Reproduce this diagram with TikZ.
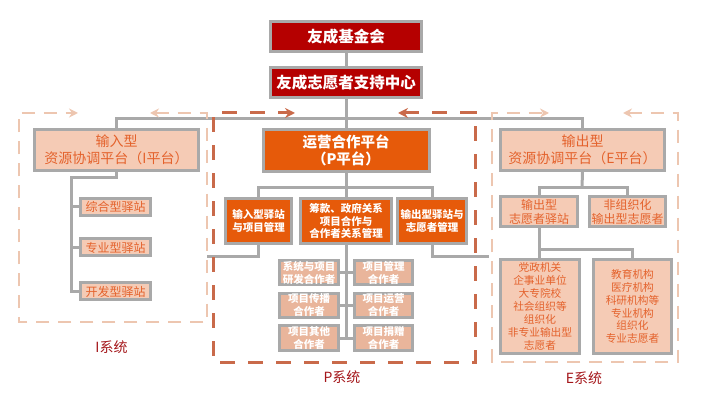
\documentclass[tikz,border=0pt]{standalone}
\usepackage{fontspec}
\setmainfont{Noto Sans CJK SC}
\usetikzlibrary{arrows.meta,backgrounds}
\definecolor{dred}{HTML}{B50000}
\definecolor{orng}{HTML}{E65A0A}
\definecolor{peach}{HTML}{F5CBB5}
\definecolor{peachb}{HTML}{E9B59B}
\definecolor{txtor}{HTML}{E4622C}
\definecolor{lgray}{HTML}{A9A9A9}
\definecolor{dashlight}{HTML}{EDC6B0}
\definecolor{dashdark}{HTML}{C96A4A}
\definecolor{labred}{HTML}{A4161A}
\tikzset{
  base/.style={draw=lgray, line width=3pt, inner sep=0pt, align=center},
  redbox/.style={base, fill=dred, text=white, font=\bfseries\fontsize{15.5}{18}\selectfont},
  platI/.style={base, fill=peach, text=txtor, font=\fontsize{14}{17}\selectfont},
  platP/.style={base, fill=orng, text=white, font=\bfseries\fontsize{14.5}{17}\selectfont},
  obox/.style={base, fill=orng, text=white, font=\bfseries\fontsize{10.5}{12.5}\selectfont},
  sbox/.style={base, fill=peachb, text=white, font=\bfseries\fontsize{10.5}{13}\selectfont},
  ibox/.style={base, fill=peach, text=txtor, font=\fontsize{12}{14}\selectfont},
  ebig/.style={base, fill=peach, text=txtor, font=\fontsize{10.7}{12.9}\selectfont},
  conn/.style={draw=lgray, line width=3pt},
  sysI/.style={draw=dashlight, line width=2pt, dash pattern=on 13pt off 9pt, {Stealth[length=9pt,width=9pt]}-{Stealth[length=9pt,width=9pt]}},
  sysP/.style={draw=dashdark, line width=3pt, dash pattern=on 15pt off 13pt, {Stealth[length=10pt,width=10pt]}-{Stealth[length=10pt,width=10pt]}},
  syslab/.style={text=labred, font=\fontsize{14}{16}\selectfont, inner sep=0pt}
}
\begin{document}
\begin{tikzpicture}[x=1pt,y=-1pt]
\useasboundingbox (0,0) rectangle (702,406);
% dashed system frames
\draw[sysI] (150,113) -- (207,113) -- (207,322) -- (19,322) -- (19,113) -- (78,113);
\draw[sysP] (398,113) -- (475,113) -- (475,362) -- (213,362) -- (213,113) -- (295,113);
\draw[sysI] (623,113) -- (678,113) -- (678,362) -- (492,362) -- (492,113) -- (549,113);
% top
\node[redbox, minimum width=151pt, minimum height=30pt] (fund) at (346,36.5) {友成基金会};
\node[redbox, minimum width=151pt, minimum height=30pt] (vsc) at (346,82.5) {友成志愿者支持中心};
% platforms
\node[platI, minimum width=164pt, minimum height=41pt] (Iplat) at (116.5,150) {输入型\\资源协调平台（I平台）};
\node[platP, minimum width=166pt, minimum height=42pt] (Pplat) at (346,150.5) {运营合作平台\\（P平台）};
\node[platI, minimum width=164pt, minimum height=41pt] (Eplat) at (582.5,150) {输出型\\资源协调平台（E平台）};
% I stations
\node[ibox, minimum width=70pt, minimum height=17pt] (I1) at (115.5,207) {综合型驿站};
\node[ibox, minimum width=70pt, minimum height=17pt] (I2) at (115.5,247.5) {专业型驿站};
\node[ibox, minimum width=70pt, minimum height=17pt] (I3) at (115.5,291.5) {开发型驿站};
% P level
\node[obox, minimum width=66pt, minimum height=45pt] (P1) at (258.5,221) {输入型驿站\\与项目管理};
\node[obox, minimum width=91pt, minimum height=45pt] (P2) at (346,221) {筹款、政府关系\\项目合作与\\合作者关系管理};
\node[obox, minimum width=69pt, minimum height=45pt] (P3) at (432,221) {输出型驿站与\\志愿者管理};
% P partners
\node[sbox, minimum width=59pt, minimum height=24pt] (S1) at (309,272.5) {系统与项目\\研发合作者};
\node[sbox, minimum width=58pt, minimum height=24pt] (S2) at (383.5,272.5) {项目管理\\合作者};
\node[sbox, minimum width=59pt, minimum height=24pt] (S3) at (309,305.5) {项目传播\\合作者};
\node[sbox, minimum width=58pt, minimum height=24pt] (S4) at (383.5,305.5) {项目运营\\合作者};
\node[sbox, minimum width=59pt, minimum height=25pt] (S5) at (309,338) {项目其他\\合作者};
\node[sbox, minimum width=58pt, minimum height=25pt] (S6) at (383.5,338) {项目捐赠\\合作者};
% E level
\node[ibox, minimum width=77pt, minimum height=30pt] (E1) at (539,211.5) {输出型\\志愿者驿站};
\node[ibox, minimum width=76pt, minimum height=30pt] (E2) at (627.5,211.5) {非组织化\\输出型志愿者};
\node[ebig, minimum width=79pt, minimum height=94pt] (E3) at (540,306.5) {党政机关\\企事业单位\\大专院校\\社会组织等\\组织化\\非专业输出型\\志愿者};
\node[ebig, minimum width=78pt, minimum height=94pt] (E4) at (632.5,306.5) {教育机构\\医疗机构\\科研机构等\\专业机构\\组织化\\专业志愿者};
% labels
\node[syslab] (Ilab) at (111.5,347) {I系统};
\node[syslab] (Plab) at (342,377) {P系统};
\node[syslab] (Elab) at (584,378) {E系统};
% connectors
\coordinate (busT) at (346,119);
\coordinate (iL) at (71,178);
\coordinate (pbus) at (346,188);
\coordinate (Iend) at (207,257);
\coordinate (Eend) at (489,257);
\coordinate (ebus) at (582,188);
\coordinate (eb2) at (540,250);
\begin{scope}[on background layer]
\draw[conn] (fund.south) -- (vsc.north);
\draw[conn] (vsc.south) -- (Pplat.north);
\draw[conn] (Iplat.north) |- (busT) -| (Eplat.north);
\draw[conn] (Iplat.south) |- (iL) |- (I3.west);
\draw[conn] (iL) |- (I1.west);
\draw[conn] (iL) |- (I2.west);
\draw[conn] (Pplat.south) -- (P2.north);
\draw[conn] (P1.north) |- (pbus) -| (P3.north);
\draw[conn] (P1.south) |- (Iend);
\draw[conn] (P3.south) |- (Eend);
\draw[conn] (P2.south) -- (P2.south |- S5.east);
\draw[conn] (S1.east) -- (S2.west);
\draw[conn] (S3.east) -- (S4.west);
\draw[conn] (S5.east) -- (S6.west);
\draw[conn] (Eplat.south) -- (ebus);
\draw[conn] (E1.north) |- (ebus) -| (E2.north);
\draw[conn] (E1.south) -- (E1.south |- E3.north);
\draw[conn] (E1.south |- eb2) -| (E4.north);
\end{scope}
\end{tikzpicture}
\end{document}
